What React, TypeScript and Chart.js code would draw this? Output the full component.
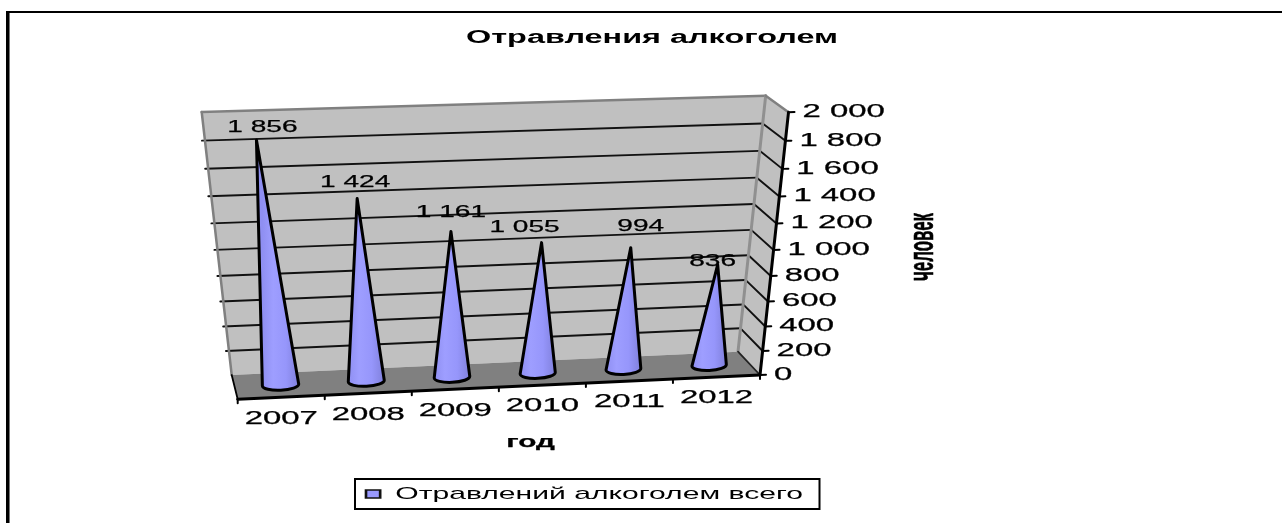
import React, { useEffect, useRef } from "react";
import { Chart, registerables } from "chart.js";

Chart.register(...registerables);

const categories = ["2007", "2008", "2009", "2010", "2011", "2012"];
const poisonings = [1856, 1424, 1161, 1055, 994, 836];
const seriesName = "Отравлений алкоголем всего";
const chartTitle = "Отравления алкоголем";
const xTitle = "год";
const yTitle = "человек";
const FONT = '"Liberation Sans"';
const CONE = "#9999ff";

type P = { x: number; y: number };
const lerp = (a: P, b: P, k: number): P => ({ x: a.x + (b.x - a.x) * k, y: a.y + (b.y - a.y) * k });

// 3D frame
const backBL = { x: 231.7, y: 375 };
const backBR = { x: 738, y: 351.7 };
const backTL = { x: 201.7, y: 112 };
const backTR = { x: 765.7, y: 95.7 };
const frontL = { x: 237.7, y: 399.3 };
const frontR = { x: 760, y: 375 };
const axisTop = { x: 788.5, y: 112.3 };
// plane the cones stand on
const midBL = { x: 237.7, y: 387 };
const midBR = { x: 752, y: 363.3 };
const midTL = { x: 204.4, y: 120 };
const midTR = { x: 776, y: 109.6 };
// perspective compression of the value axis
const persp = (t: number) => t + 0.096 * t * (t - 1);
// label nudges relative to each cone tip
const labelNudges = [[6, -13], [-2, -16.5], [0, -19], [-17, -15], [10, -21], [-5, -3]];

function stretchText(ctx: any, text: string, x: number, y: number, font: string, sx: number, opts: any = {}) {
  ctx.save();
  ctx.font = font;
  ctx.translate(x, y);
  if (opts.rot) ctx.rotate(opts.rot);
  ctx.scale(sx, opts.cross || 1);
  ctx.textAlign = opts.align || "center";
  ctx.textBaseline = "middle";
  ctx.fillStyle = "#000";
  ctx.fillText(text, 0, 0);
  ctx.strokeStyle = "#000";
  ctx.lineWidth = 0.25;
  ctx.strokeText(text, 0, 0);
  ctx.restore();
}

function line(ctx: any, a: P, b: P, color: string, w: number) {
  ctx.beginPath();
  ctx.moveTo(a.x, a.y);
  ctx.lineTo(b.x, b.y);
  ctx.strokeStyle = color;
  ctx.lineWidth = w;
  ctx.stroke();
}

function poly(ctx: any, pts: P[], fill: string) {
  ctx.beginPath();
  pts.forEach((p, i) => (i ? ctx.lineTo(p.x, p.y) : ctx.moveTo(p.x, p.y)));
  ctx.closePath();
  ctx.fillStyle = fill;
  ctx.fill();
}

const framePlugin = {
  id: "frame3d",
  beforeDraw(chart: any) {
    const { ctx } = chart;
    // wrap title and legend so that the library draws them stretched like the reference
    if (!chart.$wrapped) {
      chart.$wrapped = true;
      const title = chart.titleBlock;
      const drawTitle = title.draw.bind(title);
      title.draw = () => {
        ctx.save();
        ctx.font = `bold 18px ${FONT}`;
        const w = ctx.measureText(chartTitle).width;
        ctx.translate(652, 38);
        ctx.scale(372 / w, 1);
        ctx.translate(-(title.left + title.right) / 2, -(title.top + title.bottom) / 2);
        drawTitle();
        ctx.restore();
      };
      const legend = chart.legend;
      const drawLegend = legend.draw.bind(legend);
      legend.draw = () => {
        ctx.save();
        ctx.fillStyle = "#fff";
        ctx.strokeStyle = "#000";
        ctx.lineWidth = 2;
        ctx.fillRect(355, 479, 464.5, 30);
        ctx.strokeRect(355, 479, 464.5, 30);
        const hit = legend.legendHitBoxes[0];
        ctx.translate(584.5, 494);
        ctx.scale(437 / hit.width, 1);
        ctx.translate(-(hit.left + hit.width / 2), -(hit.top + hit.height / 2));
        drawLegend();
        ctx.restore();
      };
    }
    ctx.save();
    ctx.fillStyle = "#000";
    ctx.fillRect(6, 11, 1276, 2);
    ctx.fillRect(6, 11, 3, 512);
    ctx.fillStyle = "#777";
    ctx.fillRect(9, 13, 1, 510);
    ctx.restore();
  },
  beforeDatasetsDraw(chart: any) {
    const { ctx } = chart;
    const yScale = chart.scales.y;
    const xScale = chart.scales.x;
    const area = chart.chartArea;
    ctx.save();
    ctx.lineCap = "round";

    // walls and floor
    poly(ctx, [backTL, backTR, backBR, backBL], "#c0c0c0");
    poly(ctx, [backTR, axisTop, frontR, backBR], "#c0c0c0");
    poly(ctx, [backBL, backBR, frontR, frontL], "#808080");

    // gridlines, ticks and value labels come from the value scale
    const span = yScale.getPixelForValue(yScale.min) - yScale.getPixelForValue(yScale.max);
    yScale.ticks.forEach((tick: any) => {
      const t = (yScale.getPixelForValue(yScale.min) - yScale.getPixelForValue(tick.value)) / span;
      const s = persp(t);
      const l = lerp(backBL, backTL, s);
      const r = lerp(backBR, backTR, s);
      const a = lerp(frontR, axisTop, s);
      if (t > 0 && t < 1) {
        line(ctx, { x: l.x - 3, y: l.y + 0.1 }, r, "#111", 1.9);
        line(ctx, r, a, "#111", 1.9);
      }
      line(ctx, a, { x: a.x + 6, y: a.y - 0.2 }, "#000", 2);
      stretchText(ctx, tick.label, a.x + 14, a.y, `17.5px ${FONT}`, 1.88, { align: "left" });
    });

    // wall edges
    line(ctx, backBL, backTL, "#808080", 2.5);
    line(ctx, backTL, backTR, "#808080", 2.5);
    line(ctx, backTR, backBR, "#909090", 3);
    line(ctx, backTR, axisTop, "#808080", 2.5);
    line(ctx, backBL, frontL, "#000", 1.8);
    line(ctx, backBR, frontR, "#222", 1.8);
    line(ctx, frontR, axisTop, "#000", 3);
    line(ctx, frontL, frontR, "#000", 3);

    // category ticks and labels
    const slots = xScale.ticks.length;
    for (let i = 0; i <= slots; i++) {
      const p = lerp(frontL, frontR, i / slots);
      line(ctx, p, { x: p.x, y: p.y + 4 }, "#000", 2);
    }
    xScale.ticks.forEach((tick: any, i: number) => {
      const u = (xScale.getPixelForTick(i) - area.left) / (area.right - area.left);
      const p = lerp(frontL, frontR, u);
      stretchText(ctx, tick.label, p.x, p.y + 21.5, `17.5px ${FONT}`, 1.88);
    });

    // cones: positions come from the bar elements the library laid out
    const meta = chart.getDatasetMeta(0);
    const tips: P[] = [];
    meta.data.forEach((bar: any) => {
      const u = (bar.x - area.left) / (area.right - area.left);
      const t = (bar.base - bar.y) / span;
      const s = persp(t);
      const base = lerp(midBL, midBR, u);
      const top = lerp(midTL, midTR, u);
      const tip = lerp(base, top, s);
      tip.x += 31 * u * (1 - u) * s;
      tips.push(tip);
      const hw = 18.3 - u * 1.2;
      const rot = Math.atan2(midBR.y - midBL.y, midBR.x - midBL.x);
      const right = { x: base.x + hw * Math.cos(rot), y: base.y + hw * Math.sin(rot) };
      const left = { x: base.x - hw * Math.cos(rot), y: base.y - hw * Math.sin(rot) };
      const path = new Path2D();
      path.moveTo(left.x, left.y);
      path.lineTo(tip.x, tip.y);
      path.lineTo(right.x, right.y);
      path.ellipse(base.x, base.y, hw, 5.2, rot, 0, Math.PI);
      path.closePath();
      const g = ctx.createLinearGradient(left.x, 0, right.x, 0);
      g.addColorStop(0, "#8f8ff2");
      g.addColorStop(0.3, "#9e9eff");
      g.addColorStop(0.65, "#9696fb");
      g.addColorStop(1, "#8080dc");
      ctx.fillStyle = g;
      ctx.fill(path);
      ctx.strokeStyle = "#000";
      ctx.lineWidth = 3;
      ctx.lineJoin = "round";
      ctx.stroke(path);
    });

    // value labels
    chart.data.datasets[0].data.forEach((v: number, i: number) => {
      const text = String(v).replace(/\B(?=(\d{3})+$)/g, " ");
      const [dx, dy] = labelNudges[i];
      stretchText(ctx, text, tips[i].x + dx, tips[i].y + dy, `16.5px ${FONT}`, 1.7);
    });

    // axis titles
    stretchText(ctx, xTitle, 530.5, 442.5, `bold 17px ${FONT}`, 1.75);
    ctx.save();
    ctx.font = `bold 15px ${FONT}`;
    const yw = ctx.measureText(yTitle).width;
    ctx.restore();
    stretchText(ctx, yTitle, 923, 247, `bold 15px ${FONT}`, 68 / yw, { rot: -Math.PI / 2, cross: 2.3 });

    ctx.restore();
    return false; // the cones replace the flat bars
  },
};

export default function App() {
  const ref = useRef<HTMLCanvasElement | null>(null);
  useEffect(() => {
    const chart = new Chart(ref.current as HTMLCanvasElement, {
      type: "bar",
      data: {
        labels: categories,
        datasets: [
          {
            label: seriesName,
            data: poisonings,
            backgroundColor: CONE,
            borderColor: "#111",
            borderWidth: 1.5,
          },
        ],
      },
      options: {
        responsive: false,
        animation: false,
        layout: { padding: { left: 232, right: 522, top: 72, bottom: 110 } },
        scales: {
          x: { display: false, ticks: { autoSkip: false } },
          y: {
            display: false,
            min: 0,
            max: 2000,
            ticks: {
              stepSize: 200,
              autoSkip: false,
              callback: (v: any) => String(v).replace(/\B(?=(\d{3})+$)/g, " "),
            },
          },
        },
        plugins: {
          tooltip: { enabled: false },
          title: {
            display: true,
            text: chartTitle,
            color: "#000",
            font: { family: FONT, size: 18, weight: "bold" },
          },
          legend: {
            position: "bottom",
            labels: {
              boxWidth: 8,
              boxHeight: 8,
              color: "#000",
              font: { family: FONT, size: 17 },
            },
          },
        },
      },
      plugins: [framePlugin],
    } as any);
    return () => chart.destroy();
  }, []);
  return (
    <canvas
      ref={ref}
      width={1282}
      height={523}
      style={{ position: "absolute", left: 0, top: 0, width: 1282, height: 523, display: "block" }}
    />
  );
}
